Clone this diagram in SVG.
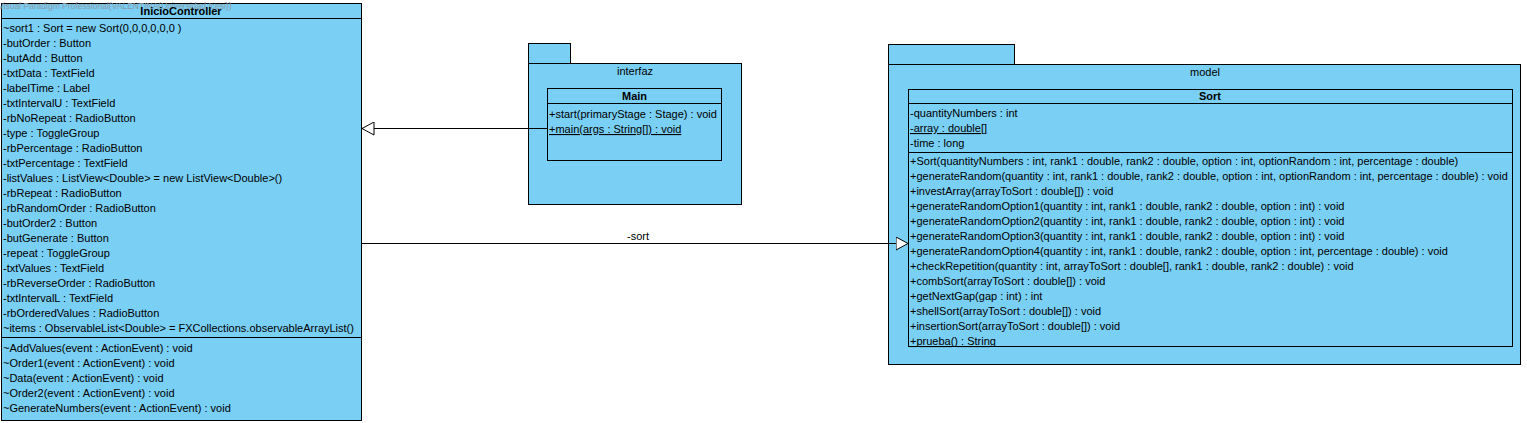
<svg xmlns="http://www.w3.org/2000/svg" width="1527" height="423" viewBox="0 0 1527 423">
<style>
.box{fill:#7acff5;stroke:#000;stroke-width:1}
.ln{stroke:#000;stroke-width:1;fill:none}
text{font-family:"Liberation Sans",Arial,sans-serif;font-size:11px;fill:#000}
.hd{font-weight:bold;text-anchor:middle}
.c{text-anchor:middle}
.u{text-decoration:underline}
.wm{font-size:8.5px;fill:#8a9aa6}
</style>
<defs>
<marker id="tri" viewBox="0 0 13 14" refX="12.5" refY="7" markerWidth="13" markerHeight="14" markerUnits="userSpaceOnUse" orient="auto">
<path d="M0.5,0.5 L12.5,7 L0.5,13.5 Z" fill="#fff" stroke="#000" stroke-width="1"/>
</marker>
</defs>
<rect width="1527" height="423" fill="#fff"/>
<g id="InicioController">
<rect class="box" x="1.5" y="3.5" width="360" height="417"/>
<line class="ln" x1="1.5" y1="18.5" x2="361.5" y2="18.5"/>
<line class="ln" x1="1.5" y1="337.5" x2="361.5" y2="337.5"/>
<text class="wm" x="-2" y="9">Visual Paradigm Professional(VALENTINA(Universidad Icesi))</text>
<text class="hd" x="181" y="15">InicioController</text>
<text x="3" y="32">~sort1 : Sort = new Sort(0,0,0,0,0,0 )</text>
<text x="3" y="47">-butOrder : Button</text>
<text x="3" y="62">-butAdd : Button</text>
<text x="3" y="77">-txtData : TextField</text>
<text x="3" y="92">-labelTime : Label</text>
<text x="3" y="107">-txtIntervalU : TextField</text>
<text x="3" y="122">-rbNoRepeat : RadioButton</text>
<text x="3" y="137">-type : ToggleGroup</text>
<text x="3" y="152">-rbPercentage : RadioButton</text>
<text x="3" y="167">-txtPercentage : TextField</text>
<text x="3" y="182">-listValues : ListView&lt;Double&gt; = new ListView&lt;Double&gt;()</text>
<text x="3" y="197">-rbRepeat : RadioButton</text>
<text x="3" y="212">-rbRandomOrder : RadioButton</text>
<text x="3" y="227">-butOrder2 : Button</text>
<text x="3" y="242">-butGenerate : Button</text>
<text x="3" y="257">-repeat : ToggleGroup</text>
<text x="3" y="272">-txtValues : TextField</text>
<text x="3" y="287">-rbReverseOrder : RadioButton</text>
<text x="3" y="302">-txtIntervalL : TextField</text>
<text x="3" y="317">-rbOrderedValues : RadioButton</text>
<text x="3" y="332">~items : ObservableList&lt;Double&gt; = FXCollections.observableArrayList()</text>
<text x="3" y="352">~AddValues(event : ActionEvent) : void</text>
<text x="3" y="367">~Order1(event : ActionEvent) : void</text>
<text x="3" y="382">~Data(event : ActionEvent) : void</text>
<text x="3" y="397">~Order2(event : ActionEvent) : void</text>
<text x="3" y="412">~GenerateNumbers(event : ActionEvent) : void</text>
</g>
<g id="interfaz">
<rect class="box" x="528.5" y="43.5" width="42" height="20"/>
<rect class="box" x="528.5" y="63.5" width="213" height="141"/>
<text class="c" x="635" y="75">interfaz</text>
</g>
<g id="Main">
<rect class="box" x="547.5" y="88.5" width="174" height="72"/>
<line class="ln" x1="547.5" y1="103.5" x2="721.5" y2="103.5"/>
<text class="hd" x="634.5" y="100">Main</text>
<text x="549" y="118">+start(primaryStage : Stage) : void</text>
<text class="u" x="549" y="133">+main(args : String[]) : void</text>
</g>
<g id="model">
<rect class="box" x="888.5" y="44.5" width="126" height="20"/>
<rect class="box" x="888.5" y="64.5" width="632" height="300"/>
<text class="c" x="1205" y="76">model</text>
</g>
<g id="Sort">
<rect class="box" x="908.5" y="89.5" width="604" height="257"/>
<line class="ln" x1="908.5" y1="103.5" x2="1512.5" y2="103.5"/>
<line class="ln" x1="908.5" y1="152.5" x2="1512.5" y2="152.5"/>
<text class="hd" x="1210" y="100">Sort</text>
<text x="910" y="117">-quantityNumbers : int</text>
<text class="u" x="910" y="132">-array : double[]</text>
<text x="910" y="147">-time : long</text>
<text x="910" y="165">+Sort(quantityNumbers : int, rank1 : double, rank2 : double, option : int, optionRandom : int, percentage : double)</text>
<text x="910" y="180">+generateRandom(quantity : int, rank1 : double, rank2 : double, option : int, optionRandom : int, percentage : double) : void</text>
<text x="910" y="195">+investArray(arrayToSort : double[]) : void</text>
<text x="910" y="210">+generateRandomOption1(quantity : int, rank1 : double, rank2 : double, option : int) : void</text>
<text x="910" y="225">+generateRandomOption2(quantity : int, rank1 : double, rank2 : double, option : int) : void</text>
<text x="910" y="240">+generateRandomOption3(quantity : int, rank1 : double, rank2 : double, option : int) : void</text>
<text x="910" y="255">+generateRandomOption4(quantity : int, rank1 : double, rank2 : double, option : int, percentage : double) : void</text>
<text x="910" y="270">+checkRepetition(quantity : int, arrayToSort : double[], rank1 : double, rank2 : double) : void</text>
<text x="910" y="285">+combSort(arrayToSort : double[]) : void</text>
<text x="910" y="300">+getNextGap(gap : int) : int</text>
<text x="910" y="315">+shellSort(arrayToSort : double[]) : void</text>
<text x="910" y="330">+insertionSort(arrayToSort : double[]) : void</text>
<text class="u" x="910" y="345">+prueba() : String</text>
</g>
<g id="connectors">
<line class="ln" x1="547.5" y1="128.5" x2="362" y2="128.5" marker-end="url(#tri)"/>
<line class="ln" x1="361.5" y1="243.5" x2="908" y2="243.5" marker-end="url(#tri)"/>
<text class="c" x="638" y="240">-sort</text>
</g>
</svg>
